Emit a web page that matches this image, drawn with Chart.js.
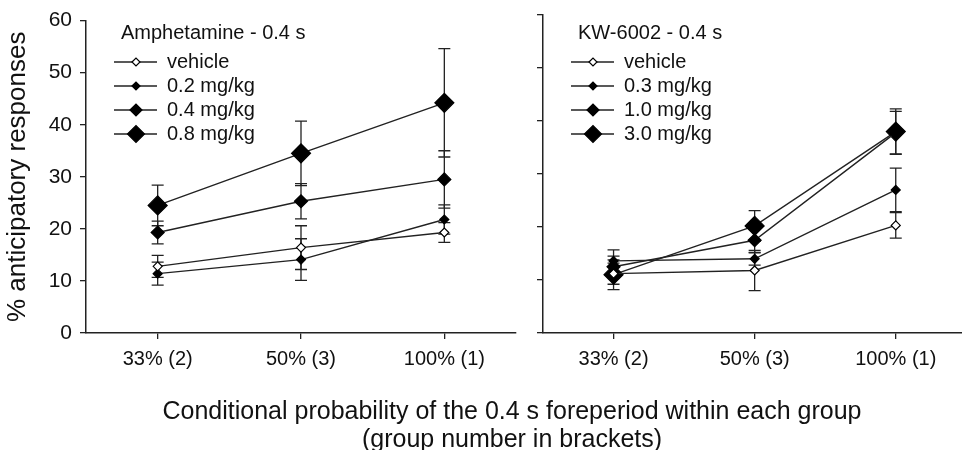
<!DOCTYPE html>
<html lang="en">
<head>
<meta charset="UTF-8">
<title>Anticipatory responses - 0.4 s foreperiod</title>
<script src="https://cdn.jsdelivr.net/npm/chart.js"></script>
<style>
    body {
        margin: 0;
        width: 962px;
        height: 450px;
        overflow: hidden;
        position: relative;
        background: #fff;
        font-family: "Liberation Sans", Arial, sans-serif;
    }
    .panel { position: absolute; top: 0; }
    #left { left: 0; }
    #right { left: 457px; }
    .xtitle {
        position: absolute;
        left: 0;
        width: 1024px;
        top: 396px;
        text-align: center;
        font-size: 25px;
        line-height: 28px;
        color: #111;
    }
</style>
</head>
<body>
<canvas id="left" class="panel" width="530" height="450"></canvas>
<canvas id="right" class="panel" width="520" height="450"></canvas>
<div class="xtitle">Conditional probability of the 0.4 s foreperiod within each group<br>(group number in brackets)</div>

<script>
    // x categories and y ticks
    const groups = ["33% (2)", "50% (3)", "100% (1)"];
    const yTicks = [0, 10, 20, 30, 40, 50, 60];

    // Amphetamine panel
    const ampLabels = ["vehicle", "0.2 mg/kg", "0.4 mg/kg", "0.8 mg/kg"];
    const ampVehicle = [12.8, 16.4, 19.3];
    const ampVehicleErr = [2.1, 4.2, 1.9];
    const amp02 = [11.4, 14.1, 21.8];
    const amp02Err = [2.2, 4.0, 2.8];
    const amp04 = [19.3, 25.3, 29.5];
    const amp04Err = [2.2, 3.4, 5.5];
    const amp08 = [24.5, 34.5, 44.2];
    const amp08Err = [3.9, 6.2, 10.4];

    // KW-6002 panel
    const kwLabels = ["vehicle", "0.3 mg/kg", "1.0 mg/kg", "3.0 mg/kg"];
    const kwVehicle = [11.2, 11.8, 20.3];
    const kwVehicleErr = [2.0, 3.8, 2.4];
    const kw03 = [13.6, 14.0, 27.0];
    const kw03Err = [2.1, 1.2, 4.1];
    const kw10 = [12.5, 17.5, 37.8];
    const kw10Err = [2.0, 2.4, 4.0];
    const kw30 = [11.0, 20.2, 38.0];
    const kw30Err = [2.8, 2.9, 4.3];

    const FONT = '"Liberation Sans", Arial, sans-serif';
    Chart.defaults.font.family = FONT;
    Chart.defaults.color = "#111";

    // marker look per series (vehicle, low, mid, high dose)
    const pointSizes = [4.5, 4.5, 6.5, 9.5];
    const legendSizes = [4, 4, 6, 8.5];
    const fills = ["#fff", "#000", "#000", "#000"];

    function diamond(ctx, x, y, r, fill) {
        ctx.beginPath();
        ctx.moveTo(x - r, y);
        ctx.lineTo(x, y - r);
        ctx.lineTo(x + r, y);
        ctx.lineTo(x, y + r);
        ctx.closePath();
        ctx.fillStyle = fill;
        ctx.fill();
        ctx.lineWidth = 1.2;
        ctx.strokeStyle = "#000";
        ctx.stroke();
    }

    const errorBars = {
        id: "errorBars",
        beforeDatasetsDraw(chart) {
            const { ctx, scales: { x, y } } = chart;
            ctx.save();
            ctx.strokeStyle = "#222";
            ctx.lineWidth = 1.3;
            chart.data.datasets.forEach((ds) => {
                ds.err.forEach((e, i) => {
                    const px = x.getPixelForValue(i);
                    const top = y.getPixelForValue(ds.data[i] + e);
                    const bot = y.getPixelForValue(ds.data[i] - e);
                    ctx.beginPath();
                    ctx.moveTo(px, top); ctx.lineTo(px, bot);
                    ctx.moveTo(px - 6, top); ctx.lineTo(px + 6, top);
                    ctx.moveTo(px - 6, bot); ctx.lineTo(px + 6, bot);
                    ctx.stroke();
                });
            });
            ctx.restore();
        }
    };

    const panelLegend = {
        id: "panelLegend",
        afterDraw(chart, args, opts) {
            const { ctx, chartArea } = chart;
            const x0 = chartArea.left;
            ctx.save();
            ctx.font = "20px " + FONT;
            ctx.textBaseline = "middle";
            ctx.textAlign = "left";
            ctx.fillStyle = "#111";
            ctx.fillText(opts.title, x0 + 35, 33);
            chart.data.datasets.forEach((ds, i) => {
                const yy = 62 + i * 24;
                ctx.strokeStyle = "#222";
                ctx.lineWidth = 1.3;
                ctx.beginPath();
                ctx.moveTo(x0 + 28, yy);
                ctx.lineTo(x0 + 71, yy);
                ctx.stroke();
                diamond(ctx, x0 + 50, yy, legendSizes[i], fills[i]);
                ctx.fillStyle = "#111";
                ctx.fillText(ds.label, x0 + 81, yy);
            });
            ctx.restore();
        }
    };

    function makePanel(id, labels, values, errs, title, showY, padRight) {
        const datasets = values.map((v, i) => ({
            label: labels[i],
            data: v,
            err: errs[i],
            borderColor: "#222",
            borderWidth: 1.4,
            pointStyle: "rectRot",
            pointRadius: pointSizes[i],
            pointBackgroundColor: fills[i],
            pointBorderColor: "#000",
            pointBorderWidth: 1.2,
            tension: 0
        }));

        return new Chart(document.getElementById(id), {
            type: "line",
            data: { labels: groups, datasets },
            options: {
                responsive: false,
                animation: false,
                layout: { padding: { top: 15, right: padRight, bottom: 0, left: 0 } },
                plugins: {
                    legend: { display: false },
                    tooltip: { enabled: false },
                    panelLegend: { title }
                },
                scales: {
                    x: {
                        type: "category",
                        offset: true,
                        grid: { offset: false, drawOnChartArea: false, drawTicks: true, tickLength: 6, color: "#222", lineWidth: 1.3 },
                        border: { color: "#222", width: 1.5 },
                        ticks: { font: { size: 20 }, color: "#111", padding: 8, maxRotation: 0 },
                        afterFit(s) { s.height = 117; }
                    },
                    y: {
                        min: 0,
                        max: 60,
                        afterBuildTicks(s) { s.ticks = yTicks.map((v) => ({ value: v })); },
                        ticks: { display: showY, font: { size: 21 }, color: "#111", padding: 8 },
                        grid: { drawOnChartArea: false, drawTicks: true, tickLength: 6, color: "#222", lineWidth: 1.3 },
                        border: { color: "#222", width: 1.5 },
                        title: {
                            display: showY,
                            text: "% anticipatory responses",
                            font: { size: 26 },
                            color: "#111",
                            padding: { top: 2, bottom: 0 }
                        },
                        afterFit(s) { s.width = 86; }
                    }
                }
            },
            plugins: [errorBars, panelLegend]
        });
    }

    makePanel("left", ampLabels,
        [ampVehicle, amp02, amp04, amp08],
        [ampVehicleErr, amp02Err, amp04Err, amp08Err],
        "Amphetamine - 0.4 s", true, 14);

    makePanel("right", kwLabels,
        [kwVehicle, kw03, kw10, kw30],
        [kwVehicleErr, kw03Err, kw10Err, kw30Err],
        "KW-6002 - 0.4 s", false, 5);
</script>
</body>
</html>
